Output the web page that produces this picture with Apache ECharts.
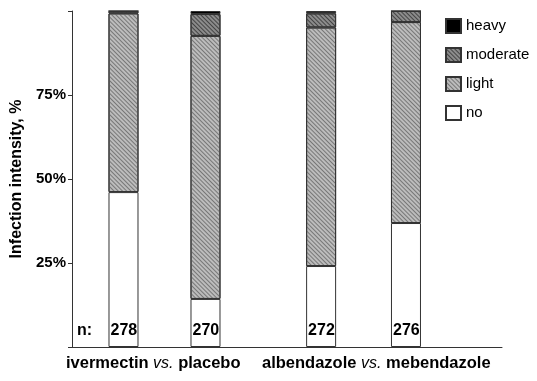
<!DOCTYPE html>
<html><head><meta charset="utf-8">
<script src="https://cdn.jsdelivr.net/npm/echarts@6/dist/echarts.min.js"></script>
<style>html,body{margin:0;padding:0;background:#fff}#c{width:537px;height:381px}</style>
</head><body><div id="c"></div>
<script>
// Bars (position on axis), sample sizes and percentages per intensity class
var barPos = [1, 2, 3.41, 4.445];
var nValues = [278, 270, 272, 276];
var noInf = [46.1, 14.3, 24.1, 36.9];
var light = [53.2, 78.3, 71.0, 59.8];
var moderate = [0.7, 6.5, 4.2, 3.3];
var heavy = [0, 0.9, 0.7, 0];
var yTicks = [25, 50, 75];
var groups = [
  {a: 'ivermectin ', b: 'placebo'},
  {a: 'albendazole ', b: 'mebendazole'}
];

// value first so that the library stacks the y dimension
function pairs(vals){ return vals.map(function(v,i){ return [v, barPos[i]]; }); }
var F = 'Liberation Sans, Arial, sans-serif';
var border = {borderColor:'#333', borderWidth:1};
var enc = {x:1, y:0};

var chart = echarts.init(document.getElementById('c'));
chart.setOption({
  animation:false,
  grid:{left:72, top:11, right:35, bottom:34},
  legend:{
    orient:'vertical', left:440, top:13, itemWidth:15, itemHeight:14, itemGap:13,
    icon:'rect',
    data:['heavy','moderate','light','no'],
    textStyle:{fontFamily:F, fontSize:15, color:'#000'}
  },
  xAxis:{type:'value', min:0.372, max:5.616,
    axisLine:{show:true, lineStyle:{color:'#333', width:1}},
    axisTick:{show:false}, axisLabel:{show:false}, splitLine:{show:false}},
  yAxis:{type:'value', min:0, max:100, interval:25,
    name:'Infection intensity, %', nameLocation:'middle', nameGap:37,
    nameTextStyle:{fontFamily:F, fontSize:16, fontWeight:'bold', color:'#000'},
    axisLine:{show:true, lineStyle:{color:'#333', width:1}},
    axisTick:{show:true, length:4, lineStyle:{color:'#333'}},
    axisLabel:{fontFamily:F, fontSize:15, fontWeight:'bold', color:'#000', margin:6,
      formatter:function(v){ return yTicks.indexOf(v)>=0 ? v+'%' : ''; }},
    splitLine:{show:false}},
  series:[
    {name:'no', type:'bar', stack:'s', barWidth:30, encode:enc, data:pairs(noInf),
      itemStyle:Object.assign({color:'#fff'}, border),
      label:{show:true, position:'insideBottomLeft', distance:2, offset:[0,-6],
        formatter:function(p){ return nValues[p.dataIndex]; },
        fontFamily:F, fontSize:16, fontWeight:'bold', color:'#000'}},
    {name:'light', type:'bar', stack:'s', barWidth:30, encode:enc, data:pairs(light),
      itemStyle:Object.assign({color:'#bcbcbc',
        decal:{symbol:'rect', symbolSize:1, dashArrayX:[1,0], dashArrayY:[1,1.2], rotation:Math.PI/4, color:'#777'}}, border)},
    {name:'moderate', type:'bar', stack:'s', barWidth:30, encode:enc, data:pairs(moderate),
      itemStyle:Object.assign({color:'#8c8c8c',
        decal:{symbol:'rect', symbolSize:1, dashArrayX:[1,0], dashArrayY:[1,1.2], rotation:Math.PI/4, color:'#444'}}, border)},
    {name:'heavy', type:'bar', stack:'s', barWidth:30, encode:enc, data:pairs(heavy),
      itemStyle:Object.assign({color:'#000'}, border)}
  ],
  graphic:[
    {type:'text', left:77, top:323, style:{text:'n:', fontFamily:F, fontSize:16, fontWeight:'bold', fill:'#000'}},
    {type:'text', left:66, top:355, style:{text:'{b|'+groups[0].a+'}{i|vs.}{b| '+groups[0].b+'}',
      rich:{b:{fontFamily:F, fontSize:16.5, fontWeight:'bold', fill:'#000'}, i:{fontFamily:F, fontSize:16, fontStyle:'italic', fill:'#000'}}}},
    {type:'text', left:262, top:355, style:{text:'{b|'+groups[1].a+'}{i|vs.}{b| '+groups[1].b+'}',
      rich:{b:{fontFamily:F, fontSize:16.5, fontWeight:'bold', fill:'#000'}, i:{fontFamily:F, fontSize:16, fontStyle:'italic', fill:'#000'}}}}
  ]
});
</script></body></html>
